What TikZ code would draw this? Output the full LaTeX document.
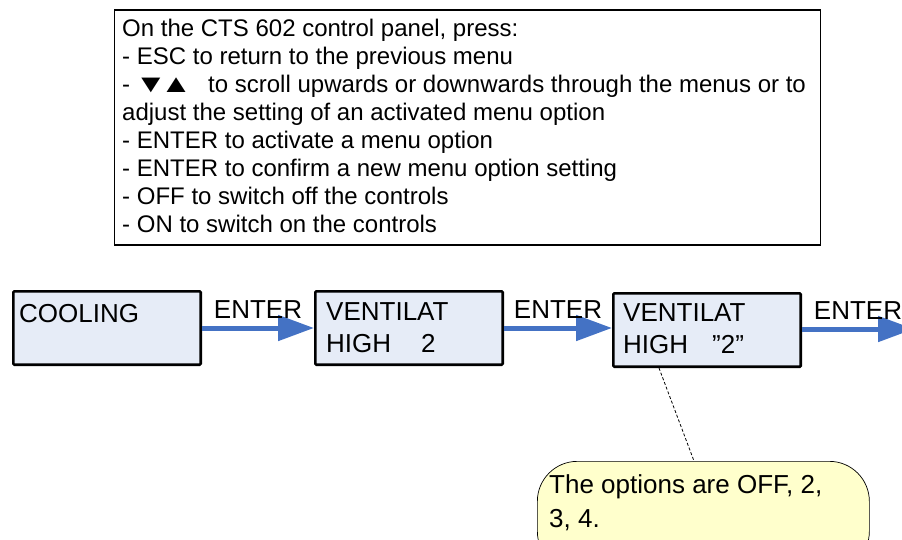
\documentclass[tikz,border=0pt]{standalone}
\usepackage{graphicx}
\usepackage{fontspec}
\setmainfont{Liberation Sans}
\usetikzlibrary{arrows.meta}
\definecolor{boxblue}{RGB}{230,236,247}
\definecolor{arrowblue}{RGB}{68,114,196}
\definecolor{noteyellow}{RGB}{255,255,204}
\tikzset{
  menubox/.style={draw, line width=2.6pt, fill=boxblue, rounded corners=1pt,
    anchor=north west, minimum width=187.4pt, minimum height=73.4pt},
  boxtext/.style={anchor=base west, inner sep=0pt, align=left,
    font=\fontsize{26}{32}\selectfont},
  flowarrow/.style={draw=arrowblue, line width=5pt, -{Triangle[length=36pt,width=25pt]}},
  keylabel/.style={anchor=base, inner sep=0pt, yshift=10pt, font=\fontsize{26}{31}\selectfont},
}
\begin{document}
\begin{tikzpicture}[x=1pt, y=-1pt]
  \useasboundingbox (0,0) rectangle (902,540);
  % panel help (anchored on the last line)
  \node[draw, line width=1.8pt, anchor=north west, minimum width=706pt,
    minimum height=235pt, inner sep=0pt] (panel) at (113.5,9) {};
  \node[anchor=base west, inner sep=0pt, align=left,
    font=\fontsize{24}{28}\selectfont] (paneltext) at (122,233)
    {On the CTS 602 control panel, press:\\
     - ESC to return to the previous menu\\
     - \kern-2pt\scalebox{1.35}[1.05]{▼\kern-5pt▲}\hspace{16pt}to scroll upwards or downwards through the menus or to\\
     adjust the setting of an activated menu option\\
     - ENTER to activate a menu option\\
     - ENTER to confirm a new menu option setting\\
     - OFF to switch off the controls\\
     - ON to switch on the controls};
  % menu boxes
  \node[menubox] (cooling) at (12,290) {};
  \node[menubox] (vent) at (314,290) {};
  \node[menubox] (ventsel) at (612,292) {};
  \node[boxtext] (coolingtext) at (19,322) {COOLING};
  \node[boxtext] (venttext) at (326,352) {VENTILAT\\HIGH\hspace{30pt}2};
  \node[boxtext] (ventseltext) at (623,353) {VENTILAT\\HIGH\hspace{24pt}”2\char"0022};
  % arrows
  \coordinate (exit) at (914,329);
  \draw[flowarrow] (cooling.east) -- (vent.west) node[keylabel, midway] (enter1) {ENTER};
  \draw[flowarrow] (vent.east) -- (vent.east -| ventsel.west) node[keylabel, midway] (enter2) {ENTER};
  \draw[flowarrow] (ventsel.east |- exit) -- (exit) node[keylabel, midway] (enter3) {ENTER};
  % note
  \node[draw, line width=0.7pt, fill=noteyellow, rounded corners=40pt, anchor=north west,
    minimum width=332pt, minimum height=110pt] (note) at (537,461) {};
  \node[boxtext, font=\fontsize{26}{34}\selectfont] (notetext) at (549,527) {The options are OFF, 2,\\3, 4.};
  \draw[line width=0.8pt, dash pattern=on 3pt off 2pt]
    ([xshift=47pt]ventsel.south west) -- ([xshift=157pt]note.north west);
\end{tikzpicture}
\end{document}
